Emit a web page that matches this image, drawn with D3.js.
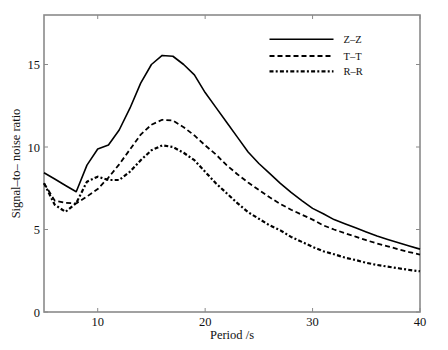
<!DOCTYPE html>
<html><head><meta charset="utf-8">
<script src="https://cdn.jsdelivr.net/npm/d3@7"></script>
<style>body{margin:0;background:#fff}svg{display:block}text{font-family:"Liberation Serif","Times New Roman",serif;fill:#111}</style>
</head><body>
<script>
const periods = d3.range(5, 41);
const zz = [8.44,8.06,7.67,7.29,8.9,9.88,10.12,11.03,12.35,13.87,15.0,15.55,15.5,15.0,14.37,13.3,12.4,11.5,10.6,9.7,9.0,8.4,7.8,7.25,6.75,6.28,5.95,5.6,5.35,5.1,4.85,4.6,4.4,4.2,4.0,3.81];
const tt = [7.8,6.75,6.62,6.58,7.0,7.45,8.15,8.95,9.85,10.75,11.35,11.65,11.6,11.2,10.7,10.1,9.55,8.9,8.35,7.85,7.4,6.95,6.55,6.2,5.9,5.6,5.25,5.0,4.78,4.57,4.35,4.15,3.98,3.8,3.63,3.48];
const rr = [7.8,6.5,6.07,6.6,7.9,8.2,8.0,8.0,8.5,9.2,9.8,10.1,10.0,9.65,9.2,8.5,7.8,7.2,6.6,6.05,5.65,5.25,4.95,4.55,4.25,3.95,3.68,3.5,3.3,3.15,2.98,2.85,2.75,2.65,2.55,2.47];
const seriesNames = ["Z\u2013Z","T\u2013T","R\u2013R"];
const xTicks = [10,20,30,40];
const yTicks = [0,5,10,15];

const W=448,H=350, L=44, R=420, T=15, B=312;
const svg = d3.select("body").append("svg").attr("width",W).attr("height",H);
const x = d3.scaleLinear().domain([5,40]).range([L,R]);
const y = d3.scaleLinear().domain([0,18]).range([B,T]);

const frame="#8a8a8a";
const g = svg.append("g");
xTicks.forEach(v=>{
  g.append("line").attr("x1",x(v)).attr("x2",x(v)).attr("y1",B).attr("y2",B-4).attr("stroke",frame).attr("stroke-width",1);
  g.append("line").attr("x1",x(v)).attr("x2",x(v)).attr("y1",T).attr("y2",T+4).attr("stroke",frame).attr("stroke-width",1);
  g.append("text").attr("x",x(v)).attr("y",B+14).attr("text-anchor","middle").attr("font-size",12.5).text(v);
});
yTicks.forEach(v=>{
  g.append("line").attr("x1",L).attr("x2",L+4).attr("y1",y(v)).attr("y2",y(v)).attr("stroke",frame).attr("stroke-width",1);
  g.append("line").attr("x1",R).attr("x2",R-4).attr("y1",y(v)).attr("y2",y(v)).attr("stroke",frame).attr("stroke-width",1);
  g.append("text").attr("x",L-4).attr("y",y(v)+4.5).attr("text-anchor","end").attr("font-size",12.5).text(v);
});
svg.append("rect").attr("x",L).attr("y",T).attr("width",R-L).attr("height",B-T).attr("fill","none").attr("stroke",frame).attr("stroke-width",1.6);

const line = d3.line().x((d,i)=>x(periods[i])).y(d=>y(d));
const styles = [
  {w:1.6, dash:null},
  {w:1.8, dash:"5,3"},
  {w:2.2, dash:"4,2.2,2,2.2"}
];
[zz,tt,rr].forEach((s,k)=>{
  svg.append("path").attr("d",line(s)).attr("fill","none").attr("stroke","#000")
    .attr("stroke-width",styles[k].w).attr("stroke-dasharray",styles[k].dash).attr("stroke-linejoin","round");
});

const ly=[39.3,56,71.3];
seriesNames.forEach((n,k)=>{
  svg.append("line").attr("x1",269.5).attr("x2",333.5).attr("y1",ly[k]).attr("y2",ly[k])
    .attr("stroke","#000").attr("stroke-width",styles[k].w).attr("stroke-dasharray",styles[k].dash);
  svg.append("text").attr("x",343.5).attr("y",ly[k]+3.5).attr("font-size",10.5).text(n);
});

svg.append("text").attr("x",(L+R)/2).attr("y",B+26.5).attr("text-anchor","middle").attr("font-size",12.5).text("Period /s");
svg.append("text").attr("transform",`translate(20,${(T+B)/2}) rotate(-90)`).attr("text-anchor","middle").attr("font-size",12.5).text("Signal\u2013to\u2013 noise  ratio");
</script>
</body></html>
